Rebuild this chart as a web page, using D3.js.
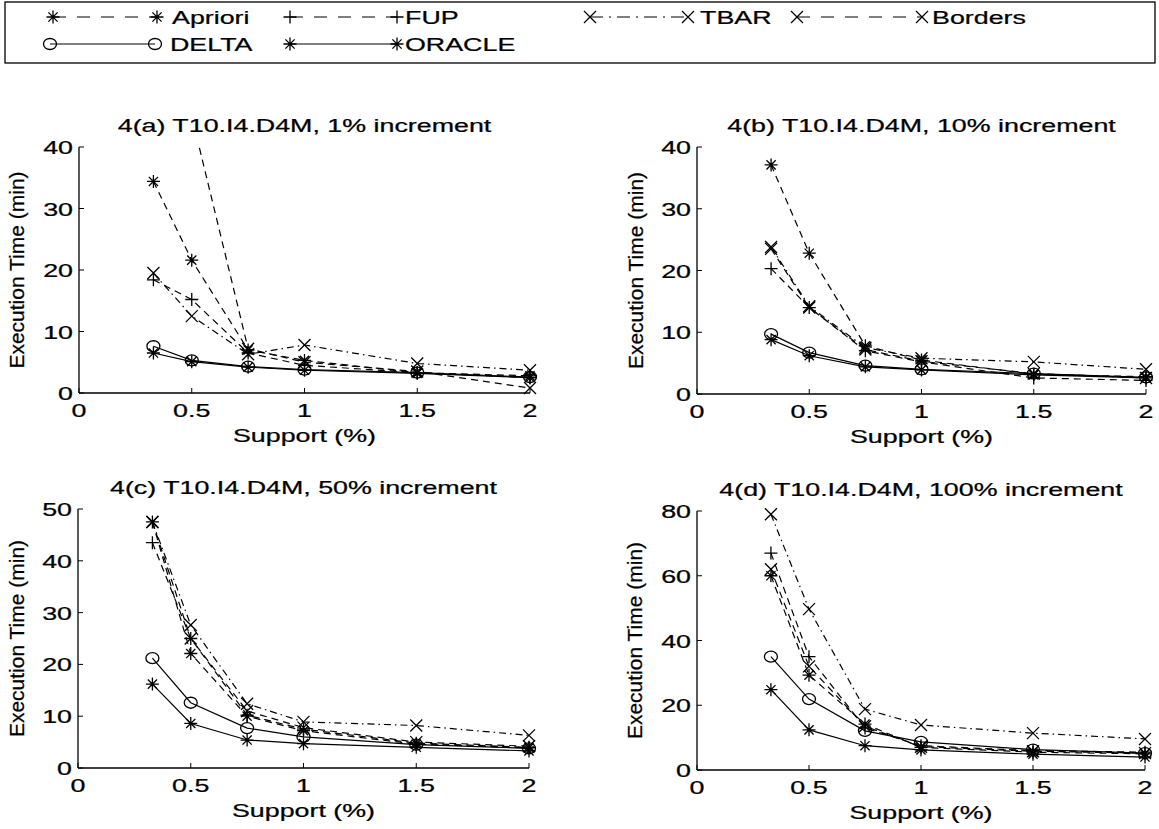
<!DOCTYPE html>
<html><head><meta charset="utf-8">
<script src="https://cdn.jsdelivr.net/npm/d3@7"></script>
<style>
body{margin:0;background:#fff}
text{font-family:"Liberation Sans",Arial,Helvetica,sans-serif;fill:#000;stroke:#000;stroke-width:0.25}
</style>
</head><body>
<svg id="chart" width="1159" height="829"></svg>
<script>
// ---------------- DATA ----------------
const supports = [0.33, 0.5, 0.75, 1, 1.5, 2];
const xTickValues = [0, 0.5, 1, 1.5, 2];
const seriesNames = ["Apriori", "FUP", "TBAR", "Borders", "DELTA", "ORACLE"];
const panelTitles = [
  "4(a) T10.I4.D4M, 1% increment",
  "4(b) T10.I4.D4M, 10% increment",
  "4(c) T10.I4.D4M, 50% increment",
  "4(d) T10.I4.D4M, 100% increment"
];
const yTicksA = [0, 10, 20, 30, 40];
const yTicksB = [0, 10, 20, 30, 40];
const yTicksC = [0, 10, 20, 30, 40, 50];
const yTicksD = [0, 20, 40, 60, 80];

// panel (a) 1% increment
const aprioriA = [34.4, 21.6, 7.0, 5.3, 3.3, 2.8];
const fupA     = [18.4, 15.2, 6.5, 4.5, 3.3, 2.5];
const tbarA    = [19.5, 12.5, 6.3, 7.8, 4.8, 3.7];
const bordersA = [62.0, 45.0, 7.2, 5.0, 3.5, 0.8];
const deltaA   = [7.6, 5.3, 4.3, 3.8, 3.3, 2.6];
const oracleA  = [6.5, 5.1, 4.2, 3.7, 3.2, 2.5];
// panel (b) 10% increment
const aprioriB = [37.1, 22.8, 7.8, 5.5, 3.2, 2.8];
const fupB     = [20.3, 14.0, 7.0, 5.2, 2.6, 2.2];
const tbarB    = [23.8, 14.2, 7.5, 5.8, 5.2, 4.0];
const bordersB = [23.5, 14.0, 7.2, 5.3, 3.3, 2.6];
const deltaB   = [9.7, 6.7, 4.6, 4.0, 3.3, 2.7];
const oracleB  = [8.8, 6.2, 4.4, 3.9, 3.1, 2.6];
// panel (c) 50% increment
const aprioriC = [47.5, 22.1, 10.0, 7.2, 4.6, 3.9];
const fupC     = [43.5, 25.0, 10.2, 7.5, 4.8, 4.0];
const tbarC    = [47.5, 27.6, 12.4, 8.9, 8.2, 6.3];
const bordersC = [47.5, 25.0, 11.0, 7.8, 5.0, 4.2];
const deltaC   = [21.2, 12.6, 7.7, 6.0, 4.5, 3.8];
const oracleC  = [16.2, 8.6, 5.4, 4.7, 4.0, 3.3];
// panel (d) 100% increment
const aprioriD = [60.0, 29.3, 14.2, 7.0, 5.5, 5.0];
const fupD     = [67.0, 35.0, 13.0, 7.5, 6.0, 5.5];
const tbarD    = [79.0, 49.7, 18.8, 13.9, 11.4, 9.6];
const bordersD = [62.0, 32.0, 13.5, 7.2, 5.8, 5.2];
const deltaD   = [35.0, 21.9, 12.1, 8.7, 6.3, 5.2];
const oracleD  = [24.8, 12.4, 7.5, 6.2, 4.9, 4.0];

// ---------------- STYLE / LAYOUT ----------------
const svg = d3.select("#chart");
const SX = 1.45;          // horizontal stretch of the scanned lettering
const FS = 18.5;          // font size
const styles = {
  Apriori: {dash: "7,5", marker: "star", legendDash: "13,11"},
  FUP:     {dash: "7,5", marker: "plus", legendDash: "13,11"},
  TBAR:    {dash: "7,4,1.5,4", marker: "cross", legendDash: "13,6,2,6"},
  Borders: {dash: "7,5", marker: "cross", legendDash: "13,11"},
  DELTA:   {dash: null, marker: "circle", legendDash: null},
  ORACLE:  {dash: null, marker: "star", legendDash: null}
};
const markerPaths = {
  star: "M-6.5,0H6.5M0,-6.5V6.5M-4.6,-4.6L4.6,4.6M-4.6,4.6L4.6,-4.6",
  plus: "M-6.5,0H6.5M0,-6.5V6.5",
  cross: "M-6,-6L6,6M-6,6L6,-6"
};
function drawMarker(g, type, x, y) {
  if (type === "circle") {
    g.append("ellipse").attr("cx", x).attr("cy", y).attr("rx", 6.5).attr("ry", 5.5)
      .attr("fill", "none").attr("stroke", "#000").attr("stroke-width", 1.3);
  } else {
    g.append("path").attr("d", markerPaths[type]).attr("transform", `translate(${x},${y})`)
      .attr("fill", "none").attr("stroke", "#000").attr("stroke-width", 1.3);
  }
}
function sText(g, str, x, y, anchor, size) {
  return g.append("text").attr("transform", `translate(${x},${y}) scale(${SX},1)`)
    .attr("text-anchor", anchor).attr("font-size", size || FS).text(str);
}

const panels = [
  {title: panelTitles[0], yMax: 40, ticks: yTicksA, data: [aprioriA, fupA, tbarA, bordersA, deltaA, oracleA], x0: 79, x1: 530, y0: 393, y1: 147, ylabX: 17},
  {title: panelTitles[1], yMax: 40, ticks: yTicksB, data: [aprioriB, fupB, tbarB, bordersB, deltaB, oracleB], x0: 697, x1: 1146, y0: 394, y1: 147, ylabX: 636},
  {title: panelTitles[2], yMax: 50, ticks: yTicksC, data: [aprioriC, fupC, tbarC, bordersC, deltaC, oracleC], x0: 78, x1: 529, y0: 768, y1: 509, ylabX: 17},
  {title: panelTitles[3], yMax: 80, ticks: yTicksD, data: [aprioriD, fupD, tbarD, bordersD, deltaD, oracleD], x0: 697, x1: 1145, y0: 770, y1: 511, ylabX: 635}
];

panels.forEach((p, pi) => {
  const x = d3.scaleLinear().domain([0, 2]).range([p.x0, p.x1]);
  const y = d3.scaleLinear().domain([0, p.yMax]).range([p.y0, p.y1]);
  const g = svg.append("g");

  g.append("line").attr("x1", p.x0).attr("x2", p.x1).attr("y1", p.y0).attr("y2", p.y0)
    .attr("stroke", "#000").attr("stroke-width", 1.3);
  g.append("line").attr("x1", p.x0).attr("x2", p.x0).attr("y1", p.y0).attr("y2", p.y1)
    .attr("stroke", "#000").attr("stroke-width", 1.3);

  xTickValues.forEach(v => {
    g.append("line").attr("x1", x(v)).attr("x2", x(v)).attr("y1", p.y0).attr("y2", p.y0 - 5)
      .attr("stroke", "#000");
    sText(g, String(v), x(v), p.y0 + 24, "middle");
  });
  p.ticks.forEach(v => {
    g.append("line").attr("x1", p.x0).attr("x2", p.x0 + 5).attr("y1", y(v)).attr("y2", y(v))
      .attr("stroke", "#000");
    sText(g, String(v), p.x0 - 6, y(v) + 7, "end");
  });

  sText(g, p.title, (p.x0 + p.x1) / 2, p.y1 - 15, "middle");
  sText(g, "Support (%)", (p.x0 + p.x1) / 2, p.y0 + 49, "middle");
  g.append("text").attr("transform", `translate(${p.ylabX + 7},${(p.y0 + p.y1) / 2}) rotate(-90)`)
    .attr("text-anchor", "middle").attr("font-size", 21).text("Execution Time (min)");

  const cid = "clip" + pi;
  svg.append("clipPath").attr("id", cid).append("rect")
    .attr("x", p.x0 - 20).attr("y", p.y1).attr("width", p.x1 - p.x0 + 40).attr("height", p.y0 - p.y1 + 20);

  const line = d3.line().x(d => x(d[0])).y(d => y(d[1]));
  seriesNames.forEach((name, si) => {
    const st = styles[name];
    const pts = supports.map((s, i) => [s, p.data[si][i]]);
    g.append("path").attr("d", line(pts)).attr("fill", "none").attr("stroke", "#000")
      .attr("stroke-width", 1.2).attr("stroke-dasharray", st.dash)
      .attr("clip-path", `url(#${cid})`);
    const mg = g.append("g");
    pts.filter(d => d[1] <= p.yMax).forEach(d => drawMarker(mg, st.marker, x(d[0]), y(d[1])));
  });
});

// ---------------- LEGEND ----------------
const lg = svg.append("g");
lg.append("rect").attr("x", 5).attr("y", 2).attr("width", 1150).attr("height", 61)
  .attr("fill", "none").attr("stroke", "#000").attr("stroke-width", 1.3);
const legendPos = {
  Apriori: [53, 157, 172, 17], FUP: [290, 397, 405, 17], TBAR: [590, 688, 700, 17], Borders: [797, 922, 932, 17],
  DELTA: [50, 155, 170, 44], ORACLE: [290, 397, 405, 44]
};
seriesNames.forEach(name => {
  const [a, b, t, yy] = legendPos[name];
  const st = styles[name];
  lg.append("line").attr("x1", a).attr("x2", b).attr("y1", yy).attr("y2", yy)
    .attr("stroke", "#000").attr("stroke-width", 1.2).attr("stroke-dasharray", st.legendDash);
  drawMarker(lg, st.marker, a, yy);
  drawMarker(lg, st.marker, b, yy);
  sText(lg, name, t, yy + 7, "start");
});
</script>
</body></html>
